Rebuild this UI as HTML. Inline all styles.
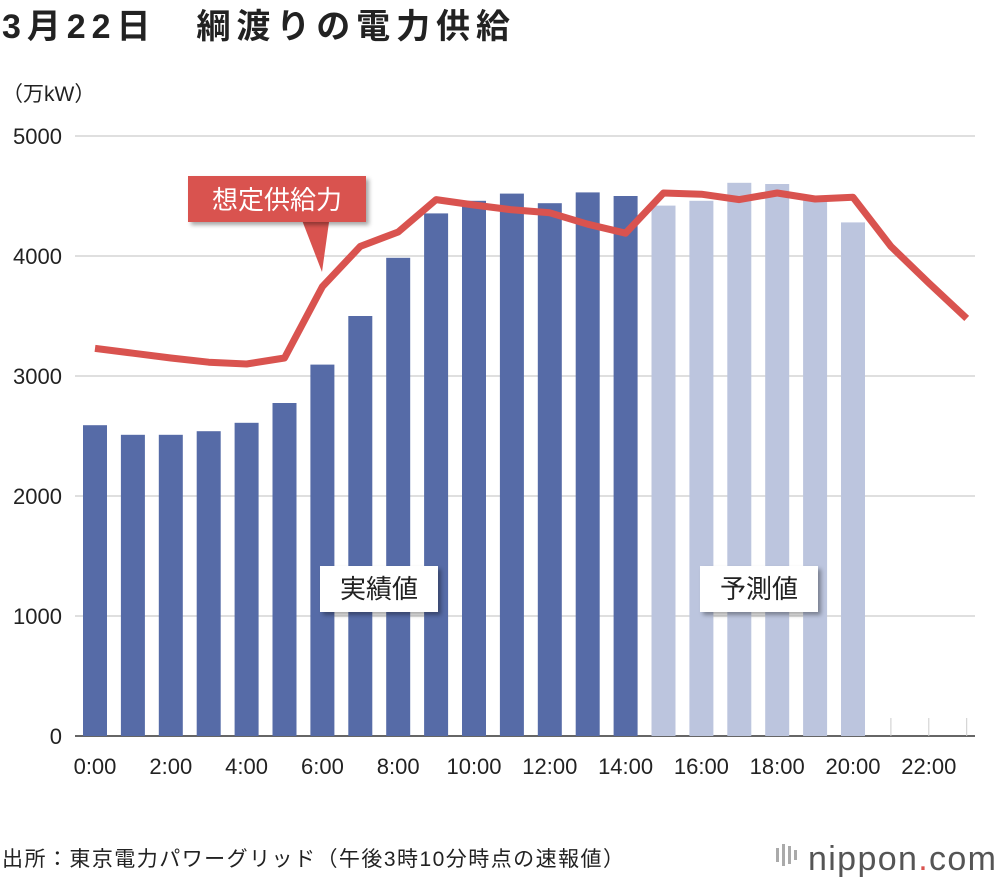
<!DOCTYPE html>
<html><head><meta charset="utf-8">
<style>
body{margin:0;background:#fff;width:1000px;height:880px;overflow:hidden;font-family:"Liberation Sans","Noto Sans CJK JP",sans-serif;}
svg text{font-family:"Liberation Sans","Noto Sans CJK JP",sans-serif;}
</style></head>
<body>
<svg id="chart" width="1000" height="880" xmlns="http://www.w3.org/2000/svg">
<defs>
<filter id="sh" x="-20%" y="-20%" width="150%" height="160%"><feDropShadow dx="3" dy="3" stdDeviation="2" flood-color="#000" flood-opacity="0.35"/></filter>
</defs>
<text x="2" y="38" font-size="34" font-weight="bold" fill="#222" textLength="508">3月22日　綱渡りの電力供給</text>
<text x="2" y="101" font-size="21" fill="#222">（万kW）</text>
<g id="grid"></g>
<g id="bars"></g>
<g id="line"></g>
<g id="xlabels"></g>
<g>
<polygon points="300,215 330,215 322,272" fill="#d9534f"/>
<rect x="188" y="176" width="178" height="46" fill="#d9534f" filter="url(#sh)"/>
<text x="277" y="209" font-size="26" fill="#fff" text-anchor="middle">想定供給力</text>
</g>
<g>
<rect x="320" y="566" width="118" height="46" fill="#fff" filter="url(#sh)"/>
<text x="379" y="598" font-size="26" fill="#222" text-anchor="middle">実績値</text>
</g>
<g>
<rect x="700" y="566" width="118" height="46" fill="#fff" filter="url(#sh)"/>
<text x="759" y="598" font-size="26" fill="#222" text-anchor="middle">予測値</text>
</g>
<text x="2" y="866" font-size="21" fill="#222" textLength="622">出所：東京電力パワーグリッド（午後3時10分時点の速報値）</text>
<g>
<text x="808" y="870" font-size="34" fill="#555" textLength="188">nippon<tspan fill="#d9534f">.</tspan>com</text>
<rect x="776" y="848" width="3" height="14" fill="#aaa"/><rect x="782" y="844" width="3" height="22" fill="#aaa"/><rect x="788" y="846" width="3" height="18" fill="#aaa"/><rect x="794" y="850" width="3" height="10" fill="#aaa"/>
</g>
</svg>
<script>
const yTicks=[0,1000,2000,3000,4000,5000];
const hours=[0,1,2,3,4,5,6,7,8,9,10,11,12,13,14,15,16,17,18,19,20,21,22,23];
const actual=[2590,2510,2510,2540,2610,2775,3095,3500,3985,4355,4460,4520,4440,4530,4500];
const forecast=[4420,4460,4610,4600,4490,4280];
const supply=[3230,3190,3150,3115,3100,3150,3745,4080,4200,4470,4425,4385,4360,4265,4190,4525,4515,4470,4525,4475,4490,4080,3775,3480];
const xLabels=["0:00","2:00","4:00","6:00","8:00","10:00","12:00","14:00","16:00","18:00","20:00","22:00"];
const NS="http://www.w3.org/2000/svg";
const y=v=>736-v*0.12;
const x=h=>95+h*37.9;
function mk(t,a,p){const e=document.createElementNS(NS,t);for(const k in a)e.setAttribute(k,a[k]);p.appendChild(e);return e;}
const grid=document.getElementById('grid');
yTicks.forEach(v=>{
 const l=mk('line',{x1:75,x2:975,y1:y(v),y2:y(v),stroke:v===0?'#333':'#ccc','stroke-width':v===0?1.5:1.2},grid);
 
 
 const t=mk('text',{x:62,y:y(v)+8,'font-size':22,'text-anchor':'end',fill:'#222'},grid);
 t.textContent=v;
 
 
});
[21,22,23].forEach(h=>{const l=mk('line',{x1:x(h),x2:x(h),y1:718,y2:736,stroke:'#ccc'},grid);
 
 });
const bars=document.getElementById('bars');
actual.forEach((v,i)=>{const r=mk('rect',{x:x(i)-12,y:y(v),width:24,height:736-y(v),fill:'#566ba7'},bars);
 
 });
forecast.forEach((v,j)=>{const i=actual.length+j;const r=mk('rect',{x:x(i)-12,y:y(v),width:24,height:736-y(v),fill:'#bcc5de'},bars);
 
 });
const pl=mk('polyline',{points:supply.map((v,i)=>x(hours[i])+','+y(v)).join(' '),fill:'none',stroke:'#d9534f','stroke-width':7,'stroke-linejoin':'round'},document.getElementById('line'));


const xl=document.getElementById('xlabels');
xLabels.forEach((s,k)=>{const t=mk('text',{x:x(k*2),y:774,'font-size':22,'text-anchor':'middle',fill:'#222'},xl);
 t.textContent=s;
 
 });
</script>
</body></html>
